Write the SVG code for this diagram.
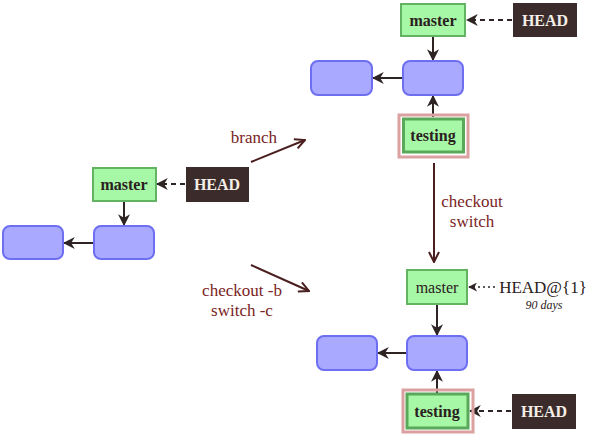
<svg xmlns="http://www.w3.org/2000/svg" width="590" height="434" viewBox="0 0 590 434">
<defs>
<style>
.br{fill:#a6f7a6;stroke:#62b462;stroke-width:2}
.tb{fill:#a6f7a6;stroke:#5aa85a;stroke-width:3}
.cm{fill:#a9a9ff;stroke:#6e6ef2;stroke-width:2}
.hd{fill:#3b2b2b}
.tg{fill:none;stroke:#dba0a0;stroke-width:3}
.bt{font-family:"Liberation Serif",serif;font-weight:bold;font-size:16px;fill:#2a2020;text-anchor:middle}
.ht{font-family:"Liberation Serif",serif;font-weight:bold;font-size:16px;fill:#f4efe6;text-anchor:middle}
.rt{font-family:"Liberation Serif",serif;font-size:16px;fill:#2a2020;text-anchor:middle}
.lb{font-family:"Liberation Serif",serif;font-size:17px;fill:#7a2424;text-anchor:middle}
.ln{stroke:#2e2424;stroke-width:2;fill:none}
.dash{stroke:#2e2424;stroke-width:2;fill:none;stroke-dasharray:5,4}
.dot{stroke:#2e2424;stroke-width:1.5;fill:none;stroke-dasharray:2,3}
.big{stroke:#4a1e1e;stroke-width:2;fill:none}
</style>
<marker id="tri" viewBox="0 0 10 10" refX="9" refY="5" markerWidth="6" markerHeight="6" orient="auto" markerUnits="strokeWidth">
<path d="M0,0 L10,5 L0,10 L3,5 z" fill="#2e2424"/>
</marker>
<marker id="vee" viewBox="0 0 12 12" refX="11" refY="6" markerWidth="6" markerHeight="6" orient="auto" markerUnits="strokeWidth">
<path d="M1,1 L11,6 L1,11" fill="none" stroke="#4a1e1e" stroke-width="2"/>
</marker>
</defs>

<g id="connectors">
<line class="dash" x1="512" y1="20" x2="467" y2="20" marker-end="url(#tri)"/>
<line class="ln" x1="433" y1="37" x2="433" y2="60" marker-end="url(#tri)"/>
<line class="ln" x1="402" y1="78" x2="373" y2="78" marker-end="url(#tri)"/>
<line class="ln" x1="433" y1="117" x2="433" y2="96" marker-end="url(#tri)"/>
<line class="dash" x1="185" y1="184" x2="157" y2="184" marker-end="url(#tri)"/>
<line class="ln" x1="124" y1="202" x2="124" y2="225" marker-end="url(#tri)"/>
<line class="ln" x1="93" y1="243" x2="64" y2="243" marker-end="url(#tri)"/>
<line class="big" x1="251" y1="162" x2="305" y2="140" marker-end="url(#vee)"/>
<line class="big" x1="251" y1="265" x2="309" y2="291" marker-end="url(#vee)"/>
<line class="big" x1="434" y1="163" x2="434" y2="262" marker-end="url(#vee)"/>
<line class="dot" x1="495" y1="287" x2="469" y2="287" marker-end="url(#tri)"/>
<line class="ln" x1="437" y1="305" x2="437" y2="335" marker-end="url(#tri)"/>
<line class="ln" x1="406" y1="353" x2="378" y2="353" marker-end="url(#tri)"/>
<line class="ln" x1="437" y1="393" x2="437" y2="371" marker-end="url(#tri)"/>
<line class="dash" x1="511" y1="411" x2="470" y2="411" marker-end="url(#tri)"/>
</g>

<g id="labels">
<text class="lb" x="254" y="143">branch</text>
<text class="lb" x="242" y="296">checkout -b</text>
<text class="lb" x="242" y="316">switch -c</text>
<text class="lb" x="472" y="207">checkout</text>
<text class="lb" x="472" y="227">switch</text>
</g>

<g id="top-master"><rect class="br" x="401" y="4" width="64" height="32"/><text class="bt" x="433" y="26">master</text></g>
<g id="top-head"><rect class="hd" x="513" y="3" width="64" height="34"/><text class="ht" x="545" y="26">HEAD</text></g>
<g id="top-commit1"><rect class="cm" x="311" y="61" width="61" height="34" rx="7"/></g>
<g id="top-commit2"><rect class="cm" x="403" y="61" width="60" height="34" rx="7"/></g>
<g id="top-testing"><rect class="tg" x="399" y="115" width="69" height="42"/><rect class="tb" x="403.5" y="119" width="60" height="33"/><text class="bt" x="433" y="141">testing</text></g>

<g id="left-master"><rect class="br" x="93" y="168" width="63" height="33"/><text class="bt" x="124" y="190">master</text></g>
<g id="left-head"><rect class="hd" x="186" y="167" width="63" height="35"/><text class="ht" x="217" y="190">HEAD</text></g>
<g id="left-commit1"><rect class="cm" x="3" y="226" width="60" height="33" rx="7"/></g>
<g id="left-commit2"><rect class="cm" x="94" y="226" width="60" height="33" rx="7"/></g>

<g id="bot-master"><rect class="br" x="407" y="270" width="60" height="34"/><text class="rt" x="437" y="293">master</text></g>
<g id="bot-reflog"><text class="rt" x="543" y="293" style="font-size:17px">HEAD@{1}</text><text class="rt" x="544" y="309" style="font-size:12px;font-style:italic">90 days</text></g>
<g id="bot-commit1"><rect class="cm" x="317" y="336" width="60" height="34" rx="7"/></g>
<g id="bot-commit2"><rect class="cm" x="407" y="336" width="60" height="34" rx="7"/></g>
<g id="bot-testing"><rect class="tg" x="403" y="390" width="70" height="42"/><rect class="tb" x="407" y="394" width="61" height="34"/><text class="bt" x="437" y="417">testing</text></g>
<g id="bot-head"><rect class="hd" x="512" y="394" width="64" height="35"/><text class="ht" x="544" y="417">HEAD</text></g>
</svg>
